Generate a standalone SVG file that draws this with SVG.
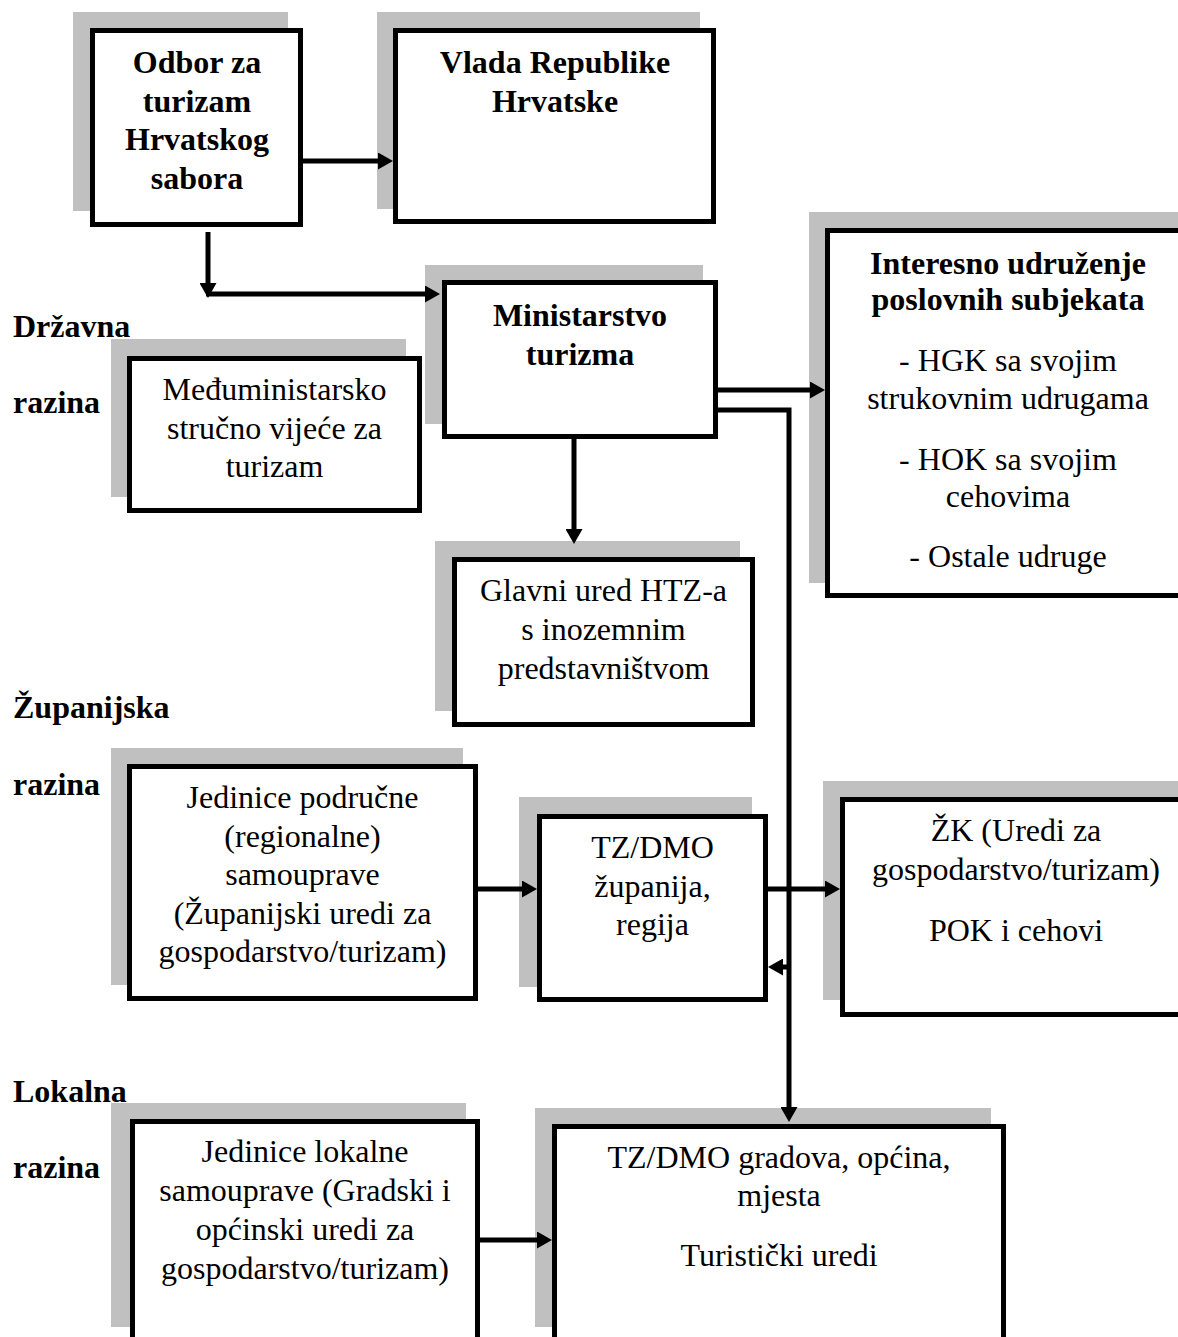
<svg xmlns="http://www.w3.org/2000/svg" width="1178" height="1337" viewBox="0 0 1178 1337">
<style>
.sh{fill:#c0c0c0}
.bx{fill:#ffffff;stroke:#000000;stroke-width:5}
.t{font-family:"Liberation Serif","Times New Roman",serif;font-size:32px;fill:#000000;text-anchor:middle}
.b{font-weight:bold}
.lbl{font-family:"Liberation Serif","Times New Roman",serif;font-size:32px;font-weight:bold;fill:#000000}
.c{fill:none;stroke:#000000;stroke-width:5;marker-end:url(#ah)}
</style>
<defs>
<marker id="ah" viewBox="0 0 15 17" markerWidth="15" markerHeight="17" markerUnits="userSpaceOnUse" refX="3" refY="8.5" orient="auto">
<path d="M0,0 L15,8.5 L0,17 Z" fill="#000000"/>
</marker>
</defs>
<rect width="1178" height="1337" fill="#ffffff"/>

<g id="labels">
<text class="lbl" x="13" y="337">Državna</text>
<text class="lbl" x="13" y="413">razina</text>
<text class="lbl" x="13" y="718">Županijska</text>
<text class="lbl" x="13" y="795">razina</text>
<text class="lbl" x="13" y="1102">Lokalna</text>
<text class="lbl" x="13" y="1178">razina</text>
</g>

<g id="odbor">
<rect class="sh" x="73" y="12" width="215" height="199"/>
<rect class="bx" x="92.5" y="30.5" width="208" height="194"/>
<text class="t b" x="197" y="73">Odbor za</text>
<text class="t b" x="197" y="112">turizam</text>
<text class="t b" x="197" y="150">Hrvatskog</text>
<text class="t b" x="197" y="189">sabora</text>
</g>

<g id="vlada">
<rect class="sh" x="377" y="12" width="323" height="197"/>
<rect class="bx" x="395.5" y="30.5" width="318" height="191"/>
<text class="t b" x="555" y="73">Vlada Republike</text>
<text class="t b" x="555" y="112">Hrvatske</text>
</g>

<g id="ministarstvo">
<rect class="sh" x="425" y="265" width="278" height="159"/>
<rect class="bx" x="444.5" y="282.5" width="271" height="154"/>
<text class="t b" x="580" y="326">Ministarstvo</text>
<text class="t b" x="580" y="365">turizma</text>
</g>

<g id="interesno">
<rect class="sh" x="809" y="212" width="400" height="371"/>
<rect class="bx" x="827.5" y="230.5" width="361" height="365"/>
<text class="t b" x="1008" y="274">Interesno udruženje</text>
<text class="t b" x="1008" y="310">poslovnih subjekata</text>
<text class="t" x="1008" y="371">- HGK sa svojim</text>
<text class="t" x="1008" y="409">strukovnim udrugama</text>
<text class="t" x="1008" y="470">- HOK sa svojim</text>
<text class="t" x="1008" y="507">cehovima</text>
<text class="t" x="1008" y="567">- Ostale udruge</text>
</g>

<g id="meduministarsko">
<rect class="sh" x="111" y="339" width="295" height="158"/>
<rect class="bx" x="129.5" y="358.5" width="290" height="152"/>
<text class="t" x="274.5" y="400">Međuministarsko</text>
<text class="t" x="274.5" y="439">stručno vijeće za</text>
<text class="t" x="274.5" y="477">turizam</text>
</g>

<g id="glavni-ured">
<rect class="sh" x="435" y="541" width="305" height="170"/>
<rect class="bx" x="454.5" y="559.5" width="298" height="165"/>
<text class="t" x="603.5" y="601">Glavni ured HTZ-a</text>
<text class="t" x="603.5" y="640">s inozemnim</text>
<text class="t" x="603.5" y="679">predstavništvom</text>
</g>

<g id="jedinice-podrucne">
<rect class="sh" x="111" y="748" width="352" height="237"/>
<rect class="bx" x="129.5" y="766.5" width="346" height="232"/>
<text class="t" x="302.5" y="808">Jedinice područne</text>
<text class="t" x="302.5" y="846.5">(regionalne)</text>
<text class="t" x="302.5" y="885">samouprave</text>
<text class="t" x="302.5" y="923.5">(Županijski uredi za</text>
<text class="t" x="302.5" y="962">gospodarstvo/turizam)</text>
</g>

<g id="tz-zupanija">
<rect class="sh" x="519" y="797" width="233" height="190"/>
<rect class="bx" x="539.5" y="816.5" width="226" height="183"/>
<text class="t" x="652.5" y="858">TZ/DMO</text>
<text class="t" x="652.5" y="897">županija,</text>
<text class="t" x="652.5" y="935">regija</text>
</g>

<g id="zk">
<rect class="sh" x="823" y="781" width="400" height="219"/>
<rect class="bx" x="842.5" y="799.5" width="347" height="215"/>
<text class="t" x="1016" y="841">ŽK (Uredi za</text>
<text class="t" x="1016" y="880">gospodarstvo/turizam)</text>
<text class="t" x="1016" y="941">POK i cehovi</text>
</g>

<g id="jedinice-lokalne">
<rect class="sh" x="111" y="1103" width="355" height="224"/>
<rect class="bx" x="132.5" y="1121.5" width="345" height="250"/>
<text class="t" x="305" y="1162">Jedinice lokalne</text>
<text class="t" x="305" y="1201">samouprave (Gradski i</text>
<text class="t" x="305" y="1240">općinski uredi za</text>
<text class="t" x="305" y="1279">gospodarstvo/turizam)</text>
</g>

<g id="tz-gradova">
<rect class="sh" x="535" y="1108" width="456" height="219"/>
<rect class="bx" x="554.5" y="1126.5" width="449" height="250"/>
<text class="t" x="779" y="1168">TZ/DMO gradova, općina,</text>
<text class="t" x="779" y="1206">mjesta</text>
<text class="t" x="779" y="1266">Turistički uredi</text>
</g>

<g id="connectors">
<path class="c" d="M303,161 H381"/>
<path class="c" d="M208,232 V286"/>
<path class="c" d="M206,294 H428"/>
<path class="c" d="M718,390 H813"/>
<path class="c" d="M718,410 H789 V1110"/>
<path class="c" d="M574,439 V532"/>
<path class="c" d="M478,889 H525"/>
<path class="c" d="M768,889 H828"/>
<path class="c" d="M789,967 H780"/>
<path class="c" d="M480,1240 H540"/>
</g>
</svg>
